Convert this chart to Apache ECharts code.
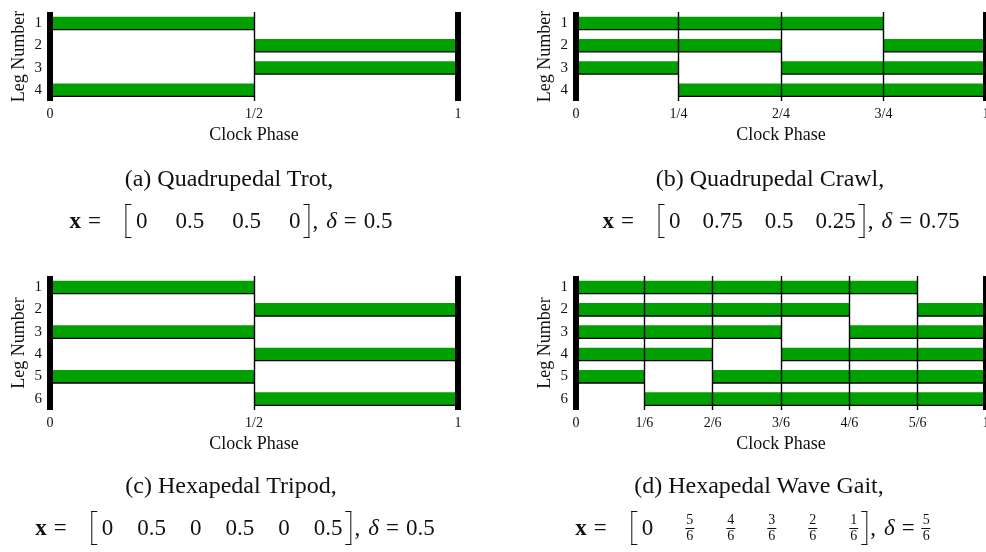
<!DOCTYPE html>
<html lang="en">
<head>
    <meta charset="UTF-8">
    <title>Gait diagrams</title>
    <script src="https://cdn.jsdelivr.net/npm/echarts@6/dist/echarts.min.js"></script>
    <style>
        body {
            margin: 0;
        }

        #wrap {
            position: relative;
            width: 986px;
            height: 552px;
            overflow: hidden;
            background: #fff;
            font-family: "Liberation Serif", serif;
            color: #111;
        }

        #chart {
            position: absolute;
            left: 0;
            top: 0;
            width: 986px;
            height: 552px;
        }

        .cap, .eq {
            position: absolute;
            transform: translate(-50%, -50%);
            white-space: nowrap;
        }

        .cap {
            font-size: 24px;
        }

        .eq {
            font-size: 23px;
            display: flex;
            align-items: center;
        }

        .eq .op {
            margin: 0 7px;
        }

        .br {
            display: inline-block;
            width: 6px;
            height: 34px;
            border: 1.4px solid #111;
            box-sizing: border-box;
        }

        .br.l {
            border-right: none;
            margin: 0 4px 0 18px;
        }

        .br.r {
            border-left: none;
            margin: 0 3px;
        }

        .eq i {
            margin-left: 8px;
        }

        .frac {
            display: inline-flex;
            flex-direction: column;
            align-items: center;
            font-size: 14px;
            line-height: 14px;
        }

        .frac span:first-child {
            border-bottom: 1px solid #111;
            padding: 0 1px 1px;
        }
    </style>
</head>
<body>
<div id="wrap">
    <div id="chart"></div>
    <div id="captions"></div>
</div>
<script>
    // stance intervals per leg: [leg, start phase, end phase]
    const trotStance = [['1', 0, 0.5], ['2', 0.5, 1], ['3', 0.5, 1], ['4', 0, 0.5]];
    const crawlStance = [['1', 0, 0.75], ['2', 0, 0.5], ['2', 0.75, 1], ['3', 0, 0.25], ['3', 0.5, 1],
        ['4', 0.25, 1]];
    const tripodStance = [['1', 0, 0.5], ['2', 0.5, 1], ['3', 0, 0.5], ['4', 0.5, 1], ['5', 0, 0.5],
        ['6', 0.5, 1]];
    const waveStance = [['1', 0, 0.8333], ['2', 0, 0.6667], ['2', 0.8333, 1], ['3', 0, 0.5], ['3', 0.6667, 1],
        ['4', 0, 0.3333], ['4', 0.5, 1], ['5', 0, 0.1667], ['5', 0.3333, 1], ['6', 0.1667, 1]];

    const legs4 = ['1', '2', '3', '4'];
    const legs6 = ['1', '2', '3', '4', '5', '6'];
    const halfTicks = ['0', '1/2', '1'];
    const quarterTicks = ['0', '1/4', '2/4', '3/4', '1'];
    const sixthTicks = ['0', '1/6', '2/6', '3/6', '4/6', '5/6', '1'];

    const trotX = ['0', '0.5', '0.5', '0'];
    const crawlX = ['0', '0.75', '0.5', '0.25'];
    const tripodX = ['0', '0.5', '0', '0.5', '0', '0.5'];
    const waveX = ['0', '5/6', '4/6', '3/6', '2/6', '1/6'];

    const FONT = 'Liberation Serif';
    const INK = '#111';

    const panels = [
        {
            legs: legs4, ticks: halfTicks, stance: trotStance, x: trotX, delta: '0.5', gap: 28,
            title: '(a) Quadrupedal Trot,', grid: {left: 50, top: 12, width: 408, height: 89},
            cap: [229, 178], eq: [231, 221]
        },
        {
            legs: legs4, ticks: quarterTicks, stance: crawlStance, x: crawlX, delta: '0.75', gap: 22,
            title: '(b) Quadrupedal Crawl,', grid: {left: 576, top: 12, width: 410, height: 89},
            cap: [770, 178], eq: [781, 221]
        },
        {
            legs: legs6, ticks: halfTicks, stance: tripodStance, x: tripodX, delta: '0.5', gap: 24,
            title: '(c) Hexapedal Tripod,', grid: {left: 50, top: 276, width: 408, height: 134},
            cap: [231, 485], eq: [235, 528]
        },
        {
            legs: legs6, ticks: sixthTicks, stance: waveStance, x: waveX, delta: '5/6', gap: 32,
            title: '(d) Hexapedal Wave Gait,', grid: {left: 576, top: 276, width: 410, height: 134},
            cap: [759, 485], eq: [753, 528]
        }
    ];

    function renderStance(params, api) {
        const leg = api.value(0);
        const p0 = api.coord([api.value(1), leg]);
        const p1 = api.coord([api.value(2), leg]);
        const h = api.size([0, 1])[1] * 0.58;
        return {
            type: 'group',
            children: [
                {
                    type: 'rect',
                    shape: {x: p0[0], y: p0[1] - h / 2, width: p1[0] - p0[0], height: h},
                    style: {fill: '#00a000'}
                },
                {
                    type: 'line',
                    shape: {x1: p0[0], y1: p0[1] + h / 2, x2: p1[0], y2: p1[1] + h / 2},
                    style: {stroke: '#000', lineWidth: 1.3}
                }
            ]
        };
    }

    const option = {
        animation: false,
        grid: [],
        xAxis: [],
        yAxis: [],
        series: []
    };

    panels.forEach((p, i) => {
        const n = p.ticks.length - 1;
        option.grid.push(Object.assign({outerBoundsMode: 'none', containLabel: false}, p.grid));
        option.xAxis.push({
            gridIndex: i,
            type: 'value',
            min: 0,
            max: 1,
            interval: 1 / n,
            z: 5,
            axisLine: {show: false},
            axisTick: {show: false},
            splitLine: {show: true, lineStyle: {color: '#000', width: 1.4}},
            axisLabel: {
                margin: 6, fontSize: 14, color: INK, fontFamily: FONT,
                formatter: v => p.ticks[Math.round(v * n)]
            },
            name: 'Clock Phase',
            nameLocation: 'middle',
            nameGap: 25,
            nameTextStyle: {fontSize: 18, color: INK, fontFamily: FONT}
        });
        option.yAxis.push({
            gridIndex: i,
            type: 'category',
            data: p.legs,
            inverse: true,
            z: 6,
            axisLine: {show: true, lineStyle: {color: '#000', width: 6, cap: 'butt'}},
            axisTick: {show: false},
            axisLabel: {margin: 8, fontSize: 15, color: INK, fontFamily: FONT},
            name: 'Leg Number',
            nameLocation: 'middle',
            nameRotate: 90,
            nameGap: 22,
            nameTextStyle: {fontSize: 18, color: INK, fontFamily: FONT}
        });
        option.yAxis.push({
            gridIndex: i,
            type: 'category',
            data: p.legs,
            inverse: true,
            position: 'right',
            z: 6,
            axisLine: {show: true, lineStyle: {color: '#000', width: 6, cap: 'butt'}},
            axisTick: {show: false},
            axisLabel: {show: false}
        });
        option.series.push({
            type: 'custom',
            xAxisIndex: i,
            yAxisIndex: i * 2,
            encode: {x: [1, 2], y: 0},
            renderItem: renderStance,
            data: p.stance
        });
    });

    const chart = echarts.init(document.getElementById('chart'));
    chart.setOption(option);

    function term(s) {
        if (s.indexOf('/') > 0) {
            const parts = s.split('/');
            return '<span class="frac"><span>' + parts[0] + '</span><span>' + parts[1] + '</span></span>';
        }
        return '<span>' + s + '</span>';
    }

    let html = '';
    panels.forEach(p => {
        html += '<div class="cap" style="left:' + p.cap[0] + 'px;top:' + p.cap[1] + 'px">' + p.title + '</div>';
        let eq = '<b>x</b><span class="op">=</span><span class="br l"></span>';
        p.x.forEach((e, k) => {
            eq += '<span style="margin-left:' + (k ? p.gap : 0) + 'px;display:inline-flex">' + term(e) + '</span>';
        });
        eq += '<span class="br r"></span>,<i>δ</i><span class="op">=</span>' + term(p.delta);
        html += '<div class="eq" style="left:' + p.eq[0] + 'px;top:' + p.eq[1] + 'px">' + eq + '</div>';
    });
    document.getElementById('captions').innerHTML = html;
</script>
</body>
</html>
